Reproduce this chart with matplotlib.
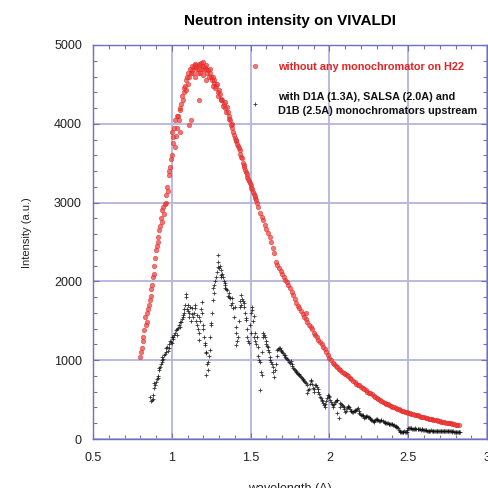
import matplotlib
matplotlib.use("Agg")
import matplotlib.pyplot as plt
from matplotlib.ticker import MultipleLocator

plt.rcParams['font.family'] = ['Liberation Sans', 'DejaVu Sans']

# ---- data ----
red_x = [0.80, 0.81, 0.82, 0.83, 0.84, 0.85, 0.86, 0.87, 0.88, 0.89, 0.90, 0.91, 0.92, 0.93,
         0.94, 0.95, 0.96, 0.97, 0.98, 0.99, 1.00, 1.00, 1.01, 1.02, 1.02, 1.03, 1.04, 1.05,
         1.05, 1.06, 1.07, 1.08, 1.09, 1.09, 1.10, 1.11, 1.11, 1.12, 1.12, 1.13, 1.14, 1.15,
         1.15, 1.16, 1.17, 1.17, 1.18, 1.18, 1.19, 1.20, 1.20, 1.21, 1.22, 1.22, 1.23, 1.24,
         1.25, 1.26, 1.26, 1.27, 1.28, 1.29, 1.30, 1.31, 1.32, 1.33, 1.34, 1.35, 1.36, 1.37,
         1.38, 1.39, 1.40, 1.41, 1.42, 1.43, 1.44, 1.45, 1.46, 1.47, 1.48, 1.49, 1.50, 1.51,
         1.52, 1.53, 1.54, 1.56, 1.58, 1.60, 1.62, 1.64, 1.66, 1.68, 1.70, 1.72, 1.74, 1.76,
         1.79, 1.82, 1.85, 1.88, 1.91, 1.94, 1.97, 2.00, 2.03, 2.06, 2.10, 2.13, 2.16, 2.20,
         2.23, 2.27, 2.30, 2.34, 2.38, 2.41, 2.44, 2.48, 2.52, 2.55, 2.60, 2.65, 2.70, 2.76,
         2.81]
red_y = [1045, 1150, 1300, 1550, 1480, 1650, 1760, 1900, 2060, 2200, 2400, 2560, 2650, 2800,
         2900, 2850, 3000, 3200, 3350, 3450, 3600, 3900, 3830, 3700, 4050, 3950, 4100, 4175,
         3900, 4250, 4300, 4400, 4430, 4550, 4500, 4600, 3980, 4650, 4050, 4680, 4720, 4600,
         4750, 4700, 4760, 4300, 4745, 4650, 4700, 4780, 4620, 4720, 4700, 4550, 4680, 4640,
         4600, 4600, 4480, 4520, 4480, 4400, 4430, 4320, 4300, 4250, 4200, 4215, 4100, 4050,
         4000, 3900, 3820, 3780, 3720, 3670, 3580, 3500, 3450, 3390, 3330, 3280, 3220, 3170,
         3110, 3060, 3000, 2870, 2780, 2660, 2560, 2430, 2250, 2170, 2090, 2020, 1950, 1870,
         1725, 1620, 1520, 1420, 1320, 1230, 1140, 1030, 950, 890, 830, 780, 720, 665,
         620, 565, 515, 470, 430, 400, 380, 345, 320, 305, 275, 250, 225, 200,
         180]
# further red readings (denser part of the scatter)
red_x_more = [0.805, 0.815, 0.825, 0.835, 0.845, 0.855, 0.865, 0.875, 0.885, 0.895, 0.905, 0.915,
              0.925, 0.935, 0.945, 0.955, 0.965, 0.975, 0.985, 0.995, 1.005, 1.015, 1.025, 1.035,
              1.045, 1.055, 1.065, 1.075, 1.085, 1.095, 1.105, 1.115, 1.125, 1.135, 1.145, 1.155,
              1.165, 1.175, 1.185, 1.195, 1.205, 1.215, 1.225, 1.235, 1.245, 1.255, 1.265, 1.275,
              1.285, 1.295, 1.305, 1.315, 1.325, 1.335, 1.345, 1.355, 1.365, 1.375, 1.385, 1.395,
              1.405, 1.415, 1.425, 1.435, 1.445, 1.455, 1.465, 1.475, 1.485, 1.495, 1.505, 1.515,
              1.525, 1.535, 1.55, 1.57, 1.59, 1.61, 1.63, 1.65, 1.67, 1.69, 1.71, 1.73,
              1.75, 1.77, 1.78, 1.80, 1.81, 1.83, 1.84, 1.85, 1.86, 1.87, 1.89, 1.90, 1.92,
              1.93, 1.95, 1.96, 1.98, 1.99, 2.01, 2.02, 2.04, 2.05, 2.07, 2.08, 2.09, 2.11,
              2.12, 2.14, 2.15, 2.17, 2.18, 2.19, 2.21, 2.22, 2.24, 2.25, 2.26, 2.28, 2.29,
              2.31, 2.32, 2.33, 2.35, 2.36, 2.37, 2.39, 2.40, 2.42, 2.43, 2.45, 2.46, 2.47,
              2.49, 2.50, 2.51, 2.53, 2.54, 2.56, 2.57, 2.58, 2.59, 2.61, 2.62, 2.63, 2.64,
              2.66, 2.67, 2.68, 2.69, 2.71, 2.72, 2.73, 2.74, 2.75, 2.77, 2.78, 2.79, 2.80,
              2.82]
red_y_more = [1100, 1250, 1380, 1450, 1600, 1700, 1820, 1950, 2100, 2300, 2450, 2500,
              2700, 2750, 2950, 2980, 3100, 3150, 3400, 3550, 3750, 3950, 3850, 4100,
              4050, 4200, 4350, 4450, 4480, 4600, 4650, 4700, 4730, 4650, 4760, 4720,
              4650, 4700, 4770, 4730, 4680, 4750, 4650, 4600, 4700, 4550, 4560, 4450,
              4500, 4350, 4380, 4300, 4220, 4280, 4150, 4150, 4060, 3980, 3950, 3860,
              3800, 3740, 3690, 3620, 3560, 3480, 3420, 3360, 3300, 3250, 3190, 3140,
              3090, 3030, 2940, 2820, 2720, 2610, 2500, 2360, 2210, 2130, 2060, 1990,
              1910, 1830, 1780, 1690, 1660, 1590, 1550, 1600, 1490, 1450, 1390, 1350, 1290,
              1260, 1200, 1170, 1100, 1060, 1000, 970, 930, 910, 870, 850, 840, 810,
              800, 760, 740, 700, 690, 680, 650, 630, 600, 590, 580, 545, 530,
              505, 490, 480, 460, 450, 440, 420, 410, 395, 385, 370, 360, 350,
              340, 335, 325, 315, 310, 300, 290, 285, 280, 270, 265, 260, 255,
              245, 240, 235, 230, 222, 218, 212, 208, 204, 197, 192, 188, 184,
              178]

black_x = [0.86, 0.87, 0.88, 0.88, 0.89, 0.89, 0.90, 0.91, 0.92, 0.92, 0.93, 0.94, 0.94, 0.95,
           0.96, 0.97, 0.98, 0.99, 1.00, 1.00, 1.01, 1.02, 1.03, 1.04, 1.05, 1.06, 1.07, 1.07,
           1.08, 1.09, 1.09, 1.10, 1.11, 1.11, 1.12, 1.13, 1.14, 1.15, 1.16, 1.16, 1.17, 1.17,
           1.18, 1.19, 1.19, 1.20, 1.21, 1.21, 1.22, 1.22, 1.23, 1.23, 1.24, 1.25, 1.25, 1.26,
           1.26, 1.27, 1.28, 1.29, 1.29, 1.30, 1.31, 1.31, 1.32, 1.33, 1.34, 1.34, 1.35, 1.36,
           1.37, 1.38, 1.39, 1.40, 1.41, 1.41, 1.42, 1.43, 1.44, 1.44, 1.45, 1.46, 1.47, 1.47,
           1.48, 1.49, 1.50, 1.51, 1.51, 1.52, 1.52, 1.53, 1.54, 1.545, 1.55, 1.56, 1.56, 1.57,
           1.58, 1.58, 1.59, 1.60, 1.61, 1.61, 1.62, 1.63, 1.64, 1.65, 1.66, 1.67, 1.68, 1.69,
           1.70, 1.71, 1.72, 1.73, 1.745, 1.76, 1.77, 1.78, 1.79, 1.80, 1.81, 1.82, 1.83, 1.84,
           1.85, 1.86, 1.87, 1.88, 1.89, 1.90, 1.91, 1.92, 1.93, 1.94, 1.95, 1.96, 1.97, 1.98,
           1.99, 2.00, 2.01, 2.02, 2.03, 2.04, 2.05, 2.05, 2.06, 2.07, 2.08, 2.09, 2.10, 2.11,
           2.12, 2.13, 2.15, 2.16, 2.17, 2.18, 2.19, 2.21, 2.22, 2.24, 2.25, 2.27, 2.28, 2.30,
           2.32, 2.33, 2.35, 2.37, 2.39, 2.41, 2.43, 2.45, 2.47, 2.49, 2.50, 2.52, 2.55, 2.57,
           2.59, 2.61, 2.63, 2.66, 2.70, 2.73, 2.76, 2.79, 2.83]
black_y = [535, 480, 505, 560, 650, 710, 720, 775, 875, 900, 950, 1040, 980, 1060,
           1100, 1170, 1150, 1250, 1220, 1295, 1300, 1350, 1320, 1410, 1420, 1480, 1550, 1575,
           1650, 1800, 1840, 1700, 1550, 1600, 1500, 1660, 1600, 1660, 1575, 1450, 1345, 1260,
           1500, 1740, 1600, 1400, 1215, 1190, 1090, 810, 980, 880, 1130, 1450, 1470, 1765,
           1915, 1950, 2060, 2185, 2335, 2170, 2145, 2050, 2100, 2000, 1980, 1915, 1890, 1850,
           1790, 1790, 1660, 1675, 1420, 1190, 1300, 1675, 1830, 1700, 1750, 1675, 1510, 1535,
           1295, 1215, 1350, 1635, 1675, 1560, 1295, 1250, 1295, 1170, 1050, 980, 620, 810,
           1295, 1345, 1300, 1200, 1170, 1130, 1040, 980, 915, 790, 950, 1130, 1150, 1130,
           1100, 1070, 1040, 1020, 980, 950, 900, 870, 850, 820, 810, 790, 750, 740,
           710, 585, 640, 750, 700, 600, 680, 660, 600, 535, 500, 455, 410, 480,
           560, 535, 470, 410, 450, 480, 495, 330, 265, 455, 430, 410, 340, 390,
           420, 380, 345, 355, 370, 390, 330, 305, 265, 290, 280, 240, 215, 250,
           230, 240, 210, 200, 190, 180, 150, 90, 90, 90, 140, 135, 125, 130,
           125, 110, 100, 105, 100, 100, 100, 95, 85]
# further black readings (denser part of the trace)
black_x_more = [0.875, 0.895, 0.905, 0.915, 0.925, 0.935, 0.945, 0.955, 0.965, 0.975, 0.985, 0.995,
                1.005, 1.015, 1.025, 1.035, 1.045, 1.055, 1.065, 1.075, 1.085, 1.095, 1.105, 1.115,
                1.125, 1.135, 1.145, 1.155, 1.165, 1.175, 1.185, 1.195, 1.205, 1.215, 1.225, 1.235,
                1.245, 1.255, 1.265, 1.275, 1.285, 1.295, 1.305, 1.315, 1.325, 1.335, 1.345, 1.355,
                1.365, 1.375, 1.385, 1.395, 1.405, 1.415, 1.425, 1.435, 1.445, 1.455, 1.465, 1.475,
                1.485, 1.495, 1.505, 1.515, 1.525, 1.535, 1.555, 1.565, 1.575, 1.585, 1.595, 1.605,
                1.615, 1.625, 1.635, 1.645, 1.655, 1.665, 1.675, 1.685, 1.695, 1.705, 1.715, 1.725,
                1.735, 1.75, 1.755, 1.765, 1.775, 1.785, 1.795, 1.805, 1.815, 1.825, 1.835, 1.845,
                1.855, 1.865, 1.875, 1.885, 1.895, 1.905, 1.915, 1.925, 1.935, 1.945, 1.955, 1.965,
                1.975, 1.985, 1.995, 2.005, 2.015, 2.025, 2.035, 2.045, 2.065, 2.075, 2.085, 2.095,
                2.105, 2.115, 2.125, 2.135, 2.14, 2.145, 2.155, 2.165, 2.175, 2.185, 2.195, 2.20,
                2.205, 2.215, 2.225, 2.23, 2.235, 2.245, 2.255, 2.26, 2.265, 2.275, 2.285, 2.29,
                2.295, 2.305, 2.31, 2.315, 2.325, 2.34, 2.345, 2.355, 2.36, 2.365, 2.375, 2.38,
                2.385, 2.395, 2.40, 2.405, 2.415, 2.42, 2.425, 2.435, 2.44, 2.445, 2.455, 2.46,
                2.465, 2.475, 2.48, 2.485, 2.495, 2.505, 2.51, 2.515, 2.525, 2.53, 2.535, 2.54,
                2.545, 2.56, 2.565, 2.575, 2.58, 2.585, 2.595, 2.60, 2.605, 2.615, 2.62, 2.625,
                2.635, 2.64, 2.645, 2.65, 2.655, 2.665, 2.67, 2.675, 2.68, 2.685, 2.69, 2.695,
                2.705, 2.71, 2.715, 2.72, 2.725, 2.735, 2.74, 2.745, 2.75, 2.755, 2.765, 2.77,
                2.775, 2.78, 2.785, 2.795, 2.80, 2.805, 2.81, 2.815, 2.82, 2.825]
black_y_more = [500, 690, 760, 800, 920, 1000, 1020, 1080, 1150, 1120, 1200, 1230,
                1270, 1320, 1380, 1400, 1450, 1480, 1520, 1600, 1700, 1650, 1620, 1680,
                1580, 1550, 1700, 1500, 1400, 1550, 1650, 1450, 1300, 1100, 950, 1050,
                1300, 1600, 1850, 2000, 2120, 2250, 2200, 2080, 2050, 1950, 1900, 1820,
                1800, 1700, 1720, 1550, 1350, 1250, 1500, 1750, 1780, 1720, 1600, 1400,
                1250, 1450, 1600, 1500, 1350, 1200, 1000, 850, 1100, 1320, 1250, 1180,
                1100, 1000, 950, 850, 870, 1050, 1140, 1160, 1120, 1090, 1060, 1030,
                1000, 970, 990, 930, 890, 860, 840, 830, 800, 770, 760, 720,
                690, 620, 700, 730, 650, 640, 690, 640, 570, 520, 480, 430,
                440, 520, 550, 500, 440, 430, 470, 490, 400, 440, 420, 380,
                360, 400, 400, 360, 350, 340, 350, 365, 380, 360, 320, 310,
                300, 290, 275, 280, 290, 285, 270, 255, 245, 230, 225, 240,
                250, 245, 235, 230, 235, 225, 215, 205, 205, 200, 195, 195,
                190, 185, 185, 180, 170, 165, 155, 140, 120, 100, 95, 90,
                95, 100, 95, 90, 120, 145, 140, 135, 130, 125, 130, 135,
                130, 125, 130, 125, 120, 125, 120, 115, 115, 108, 105, 105,
                100, 105, 108, 105, 100, 105, 100, 98, 102, 100, 100, 98,
                100, 98, 102, 100, 98, 100, 98, 100, 98, 100, 98, 96,
                98, 95, 97, 94, 93, 92, 90, 90, 88, 87]

title = "Neutron intensity on VIVALDI"
red_label = "without any monochromator on H22"
black_label = "with D1A (1.3A), SALSA (2.0A) and\nD1B (2.5A) monochromators upstream"
x_label = "wavelength (A)"
y_label = "Intensity (a.u.)"
x_ticks = [0.5, 1, 1.5, 2, 2.5, 3]
x_tick_labels = ["0.5", "1", "1.5", "2", "2.5", "3"]
y_ticks = [0, 1000, 2000, 3000, 4000, 5000]

# ---- figure ----
spine_col = "#6f6fbf"
grid_col = "#b4b4dc"
fig = plt.figure(figsize=(4.88, 4.88), dpi=100)
ax = fig.add_axes([0.1906, 0.1004, 0.8074, 0.8074])

ax.grid(True, which='major', color=grid_col, linewidth=1.3, zorder=0)
ax.set_axisbelow(True)

bx = black_x + black_x_more
by = black_y + black_y_more
rx = red_x + red_x_more
ry = red_y + red_y_more

ax.plot(bx, by, linestyle='none', marker='+', markersize=3.0,
        markeredgewidth=0.6, color='#111111', alpha=0.85, label=black_label, zorder=3)
ax.plot(rx, ry, linestyle='none', marker='o', markersize=3.3,
        markeredgewidth=0.4, markerfacecolor='#ee3a36', markeredgecolor='#e02020',
        alpha=0.7, label=red_label, zorder=4)

ax.set_xlim(0.5, 3)
ax.set_ylim(0, 5000)
ax.set_xticks(x_ticks)
ax.set_xticklabels(x_tick_labels)
ax.set_yticks(y_ticks)
ax.xaxis.set_minor_locator(MultipleLocator(0.1))
ax.yaxis.set_minor_locator(MultipleLocator(200))
ax.tick_params(which='both', direction='in', top=True, right=True,
               color=spine_col, width=0.8, labelsize=9, labelcolor='#222222')
ax.tick_params(which='major', length=4)
ax.tick_params(which='minor', length=3)
ax.tick_params(axis='x', pad=9)
ax.tick_params(axis='y', pad=8)
for s in ax.spines.values():
    s.set_color(spine_col)
    s.set_linewidth(1.0)

ax.set_xlabel(x_label, fontsize=9, color='#222222')
ax.xaxis.set_label_coords(0.5, -0.112)
ax.set_ylabel(y_label, fontsize=8, color='#222222')
ax.yaxis.set_label_coords(-0.155, 0.523)
ax.set_title(title, fontsize=11, fontweight='bold', y=1.03)

handles, labels = ax.get_legend_handles_labels()
leg = ax.legend(handles[::-1], labels[::-1], loc='upper left',
                bbox_to_anchor=(0.373, 0.982), frameon=False,
                prop={'size': 7.8, 'weight': 'bold'}, labelcolor=['#e52222', '#111111'],
                handletextpad=1.6, handlelength=1.0, labelspacing=1.85, markerscale=1.0)
for t in leg.get_texts():
    t.set_linespacing(1.55)

fig.savefig("out.png", dpi=100)
